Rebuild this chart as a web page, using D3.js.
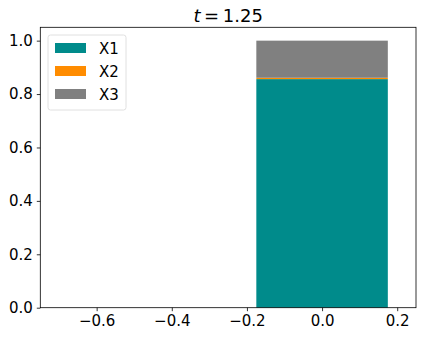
<!DOCTYPE html>
<html>
<head>
<meta charset="utf-8">
<script src="https://d3js.org/d3.v7.min.js"></script>
<style>
body, html { margin: 0; padding: 0; background: #fff; }
svg { display: block; font-family: "DejaVu Sans", sans-serif; }
</style>
</head>
<body>
<svg id="chart" width="423" height="338"></svg>
<script>
// data
const positions = [0];
const seriesNames = ["X1", "X2", "X3"];
const seriesColors = ["#008b8b", "#ff8c00", "#808080"];
const x1 = [0.856];
const x2 = [0.005];
const x3 = [0.139];
const xTicks = [-0.6, -0.4, -0.2, 0.0, 0.2];
const yTicks = [0.0, 0.2, 0.4, 0.6, 0.8, 1.0];
const barWidth = 0.35;

const svg = d3.select("#chart");
const margin = { top: 27.3, right: 7, bottom: 30.3, left: 40.3 };
const width = 423 - margin.left - margin.right;
const height = 338 - margin.top - margin.bottom;

const g = svg.append("g")
  .attr("transform", "translate(" + margin.left + "," + margin.top + ")");

const xScale = d3.scaleLinear().domain([-0.75, 0.25]).range([0, width]);
const yScale = d3.scaleLinear().domain([0, 1.05]).range([height, 0]);

// stacked bars
const rows = positions.map((p, i) => ({ pos: p, X1: x1[i], X2: x2[i], X3: x3[i] }));
const stacked = d3.stack().keys(seriesNames)(rows);

stacked.forEach((layer, k) => {
  g.selectAll(null)
    .data(layer)
    .enter().append("rect")
    .attr("x", d => xScale(d.data.pos - barWidth / 2))
    .attr("width", d => xScale(d.data.pos + barWidth / 2) - xScale(d.data.pos - barWidth / 2))
    .attr("y", d => yScale(d[1]))
    .attr("height", d => yScale(d[0]) - yScale(d[1]))
    .attr("fill", seriesColors[k]);
});

// axes
const xAxis = d3.axisBottom(xScale).tickValues(xTicks).tickSize(3.5).tickPadding(4)
  .tickFormat(d => d3.format(".1f")(d).replace("-", "\u2212"));
const yAxis = d3.axisLeft(yScale).tickValues(yTicks).tickSize(3.5).tickPadding(4)
  .tickFormat(d3.format(".1f"));

g.append("g").attr("transform", "translate(0," + height + ")").call(xAxis)
  .call(a => a.select(".domain").remove());
g.append("g").call(yAxis)
  .call(a => a.select(".domain").remove());

svg.selectAll(".tick text").style("font-size", "15px").attr("fill", "#000")
  .style("font-family", "DejaVu Sans, sans-serif");
svg.selectAll(".tick line").attr("stroke", "#000").attr("stroke-width", 0.8);

// frame
g.append("rect")
  .attr("x", 0).attr("y", 0).attr("width", width).attr("height", height)
  .attr("fill", "none").attr("stroke", "#000").attr("stroke-width", 0.8);

// title
const title = svg.append("text")
  .attr("x", margin.left + width / 2).attr("y", 22)
  .attr("text-anchor", "middle")
  .style("font-size", "18px");
title.append("tspan").style("font-style", "italic").text("t");
title.append("tspan").text("\u2009=\u20091.25");

// legend
const legend = g.append("g").attr("transform", "translate(7.7,7.7)");
legend.append("rect")
  .attr("x", 0).attr("y", 0).attr("width", 78).attr("height", 75)
  .attr("rx", 2.5)
  .attr("fill", "#fff").attr("fill-opacity", 0.8)
  .attr("stroke", "#d8d8d8").attr("stroke-width", 0.8);

seriesNames.forEach((name, i) => {
  const row = legend.append("g").attr("transform", "translate(7," + (8 + i * 23) + ")");
  row.append("rect").attr("width", 31).attr("height", 10).attr("fill", seriesColors[i]);
  row.append("text").attr("x", 44).attr("y", 10.5)
    .style("font-size", "15px").text(name);
});
</script>
</body>
</html>
